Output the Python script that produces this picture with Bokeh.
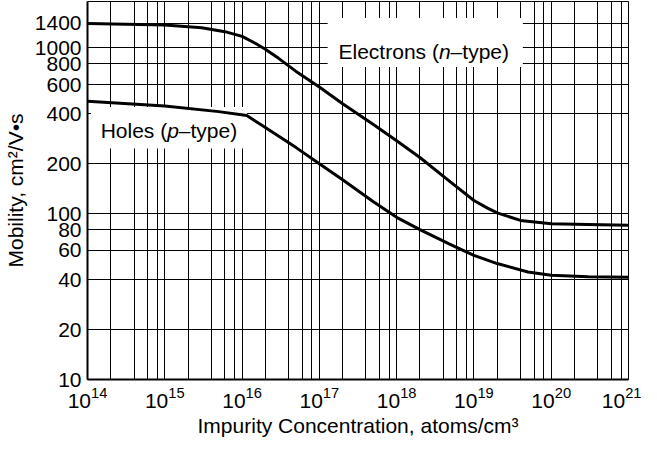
from bokeh.plotting import figure
from bokeh.models import FixedTicker, Range1d, Label, BoxAnnotation, BasicTickFormatter
from bokeh.embed import file_html
from bokeh.resources import INLINE

# ---- data -------------------------------------------------------------
X_DECADES = [1e14, 1e15, 1e16, 1e17, 1e18, 1e19, 1e20, 1e21]
X_GRID_MULTIPLIERS = [1, 2, 4, 6, 8]
X_GRID = [m * d for d in X_DECADES[:-1] for m in X_GRID_MULTIPLIERS] + [X_DECADES[-1]]
Y_TICKS = [10, 20, 40, 60, 80, 100, 200, 400, 600, 800, 1000, 1400]

electron_conc = [1e14, 1e15, 3e15, 6e15, 1e16, 1.5e16, 2e16, 3e16, 5e16,
                 1e17, 2e17, 5e17, 1e18, 2e18, 5e18, 1e19, 1.5e19, 2e19, 4e19,
                 1e20, 3e20, 1e21]
electron_mob = [1400, 1370, 1320, 1250, 1170, 1060, 980, 860, 720,
                580, 460, 345, 275, 218, 155, 120, 108, 101, 91,
                87, 86, 85]

hole_conc = [1e14, 1e15, 5e15, 1.15e16, 2e16, 5e16, 1e17, 2e17, 5e17,
             1e18, 2e18, 5e18, 1e19, 2e19, 5e19, 1e20, 3e20, 1e21]
hole_mob = [475, 445, 412, 390, 330, 250, 200, 160, 118,
            95, 80, 65, 56, 50, 44.5, 42.5, 41.7, 41.4]

FONT = "Liberation Sans"
FS = "21px"

# ---- figure -----------------------------------------------------------
p = figure(width=641, height=439, x_axis_type="log", y_axis_type="log",
           x_range=Range1d(1e14, 1e21), y_range=Range1d(10, 1900),
           output_backend="svg", toolbar_location=None,
           min_border_left=81, min_border_right=13, min_border_top=1,
           min_border_bottom=59)

p.background_fill_color = "white"
p.border_fill_color = "white"
p.outline_line_color = "black"
p.outline_line_width = 1

# grids
p.xgrid.ticker = FixedTicker(ticks=X_GRID)
p.ygrid.ticker = FixedTicker(ticks=Y_TICKS)
for g in (p.xgrid, p.ygrid):
    g.grid_line_color = "black"
    g.grid_line_width = 1
    g.grid_line_alpha = 1.0

# axes
p.xaxis.ticker = FixedTicker(ticks=X_DECADES)
p.yaxis.ticker = FixedTicker(ticks=Y_TICKS)
p.yaxis.formatter = BasicTickFormatter(use_scientific=False)
for ax in (p.xaxis, p.yaxis):
    ax.axis_line_color = "black"
    ax.axis_line_width = 2
    ax.major_tick_out = 0
    ax.major_tick_in = 0
    ax.minor_tick_out = 0
    ax.minor_tick_in = 0
    ax.major_label_text_font = FONT
    ax.major_label_text_font_size = FS
    ax.major_label_text_color = "black"
    ax.axis_label_text_font = FONT
    ax.axis_label_text_font_size = FS
    ax.axis_label_text_font_style = "normal"
    ax.axis_label_text_color = "black"

p.xaxis.axis_label = "Impurity Concentration, atoms/cm³"
p.yaxis.axis_label = "Mobility, cm²/V•s"
p.xaxis.major_label_standoff = 7
p.xaxis.axis_label_standoff = 3
p.yaxis.major_label_standoff = 6
p.yaxis.axis_label_standoff = 5

# white boxes behind the curve labels
p.add_layout(BoxAnnotation(left=1.28e17, right=4.3e19, bottom=766, top=1510,
                           fill_color="white", fill_alpha=1, line_color=None,
                           level="underlay"))
p.add_layout(BoxAnnotation(left=1.11e14, right=1.16e16, bottom=247, top=439,
                           fill_color="white", fill_alpha=1, line_color=None,
                           level="underlay"))

# curves
p.line(electron_conc, electron_mob, line_color="black", line_width=3, line_join="round")
p.line(hole_conc, hole_mob, line_color="black", line_width=3, line_join="round")


def add_label(x, y, parts):
    for txt, style, off in parts:
        p.add_layout(Label(x=x, y=y, x_offset=off, text=txt, text_font=FONT,
                           text_font_size=FS, text_font_style=style,
                           text_align="left", text_baseline="middle",
                           text_color="black"))


add_label(1.77e17, 953, [("Electrons (", "normal", 0), ("n", "italic", 100.4),
                         ("–type)", "normal", 112.1)])
add_label(1.48e14, 318, [("Holes (", "normal", 0), ("p", "italic", 66.5),
                         ("–type)", "normal", 78.2)])

open("out.html", "w").write(file_html(p, INLINE))
